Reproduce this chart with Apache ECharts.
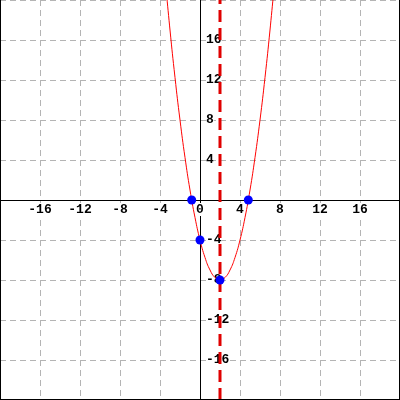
<!DOCTYPE html>
<html><head><meta charset="utf-8">
<script src="https://cdn.jsdelivr.net/npm/echarts@6/dist/echarts.min.js"></script>
<style>html,body{margin:0;padding:0;background:#fff}#c{width:400px;height:400px}</style>
</head><body><div id="c"></div>
<script>
var curveX = [-3.5,-3,-2.5,-2,-1.5,-1,-0.5,0,0.5,1,1.5,2,2.5,3,3.5,4,4.5,5,5.5,6,6.5,7,7.5];
var curveY = [22.25,17,12.25,8,4.25,1,-1.75,-4,-5.75,-7,-7.75,-8,-7.75,-7,-5.75,-4,-1.75,1,4.25,8,12.25,17,22.25];
var pointX = [-0.83, 4.83, 0, 2];
var pointY = [0, 0, -4, -8];
var axisX = 2;
var axisMin = -20, axisMax = 20, axisStep = 4;
var xTickLabels = [-16,-12,-8,-4,0,4,8,12,16];
var yTickLabels = [-16,-12,-8,-4,4,8,12,16];

var chart = echarts.init(document.getElementById('c'));
var labelFont = {fontFamily:'"Liberation Mono", monospace', fontWeight:'bold', fontSize:13, color:'#000', opacity:1, backgroundColor:'#fff', padding:[0,0,0,0]};
chart.setOption({
  animation:false,
  grid:{left:0,right:0,top:0,bottom:0,containLabel:false,outerBoundsMode:'none'},
  xAxis:{type:'value',min:axisMin,max:axisMax,interval:axisStep,
    axisLine:{onZero:true,lineStyle:{color:'#000',width:1}},axisTick:{show:false},
    axisLabel:{show:false},
    splitLine:{show:true,lineStyle:{color:'#b4b4b4',type:[6,4],width:1}}},
  yAxis:{type:'value',min:axisMin,max:axisMax,interval:axisStep,
    axisLine:{onZero:true,lineStyle:{color:'#000',width:1}},axisTick:{show:false},
    axisLabel:{show:false},
    splitLine:{show:true,lineStyle:{color:'#b4b4b4',type:[6,4],width:1}}},
  series:[
    {type:'scatter',data:xTickLabels.map(function(v){return [v,0];}),symbol:'circle',symbolSize:0,itemStyle:{color:'#000'},silent:true,z:2,
      label:Object.assign({show:true,position:'bottom',distance:3,formatter:function(p){return String(p.value[0]);}},labelFont)},
    {type:'scatter',data:yTickLabels.map(function(v){return [0,v];}),symbol:'circle',symbolSize:0,itemStyle:{color:'#000'},silent:true,z:2,
      label:Object.assign({show:true,position:'right',distance:6,formatter:function(p){return String(p.value[1]);}},labelFont)},
    {type:'line',data:[[axisX,axisMin],[axisX,axisMax]],symbol:'none',lineStyle:{color:'#e00000',width:3,type:[12,6]},z:3},
    {type:'line',data:curveX.map(function(x,i){return [x,curveY[i]];}),symbol:'none',smooth:true,lineStyle:{color:'#ff0000',width:1},z:4},
    {type:'scatter',data:pointX.map(function(x,i){return [x,pointY[i]];}),symbol:'circle',symbolSize:9,itemStyle:{color:'#0000ff',opacity:1},z:5}
  ],
  graphic:[
    {type:'line',shape:{x1:0.5,y1:0,x2:0.5,y2:400},style:{stroke:'#000',lineWidth:1},z:100},
    {type:'line',shape:{x1:399.5,y1:0,x2:399.5,y2:400},style:{stroke:'#000',lineWidth:1},z:100},
    {type:'line',shape:{x1:0,y1:399.5,x2:400,y2:399.5},style:{stroke:'#000',lineWidth:1},z:100}
  ]
});
</script></body></html>
